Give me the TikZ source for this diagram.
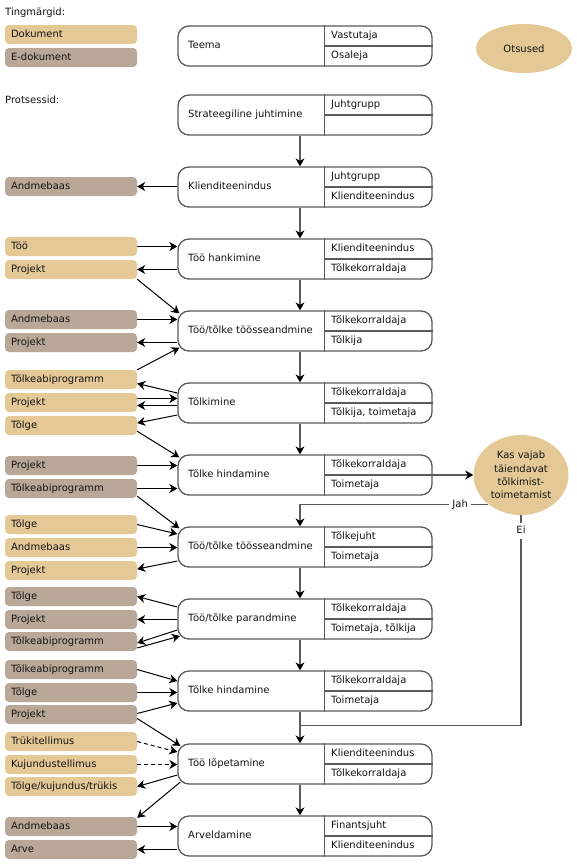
\documentclass[tikz,border=0pt]{standalone}
\usepackage{fontspec}
\setmainfont{DejaVu Sans}
\usetikzlibrary{arrows.meta,shapes.geometric,calc}
\definecolor{tan}{RGB}{228,201,150}
\definecolor{egray}{RGB}{185,168,152}
\definecolor{boxc}{RGB}{90,90,90}
\definecolor{txt}{RGB}{20,20,20}
\newcommand\mkproc[5]{%
  \node[pbox] (#1) at (305,#2) {};
  \node[ptext] (#1t) at (188,#2) {#3};
  \node[ptext] (#1r) at (331,{#2-10}) {#4};
  \node[ptext] (#1s) at (331,{#2+10}) {#5};
  \draw[pline] ([xshift=147pt]#1.north west) -- ([xshift=147pt]#1.south west);
  \draw[pline] ([xshift=147pt]#1.west) -- (#1.east);
}
\newcommand\harr[2]{\draw[arr] (#1.east) -- (#1.east -| #2.west);}
\newcommand\larr[2]{\draw[arr] (#2.east -| #1.west) -- (#2.east);}
\begin{document}
\begin{tikzpicture}[x=1pt,y=-1pt, font=\fontsize{10}{12}\selectfont, text=txt,
  pbox/.style={draw=boxc, line width=1.3pt, rounded corners=11pt, minimum width=254pt, minimum height=40pt, inner sep=0pt},
  pline/.style={draw=boxc, line width=1.3pt},
  ptext/.style={anchor=west, inner sep=0pt, text height=7.5pt, text depth=2pt},
  doc/.style={fill=tan, rounded corners=4pt, minimum height=19pt, text width=120pt, inner xsep=6pt, inner ysep=0pt, align=left, text height=7.5pt, text depth=2pt},
  edoc/.style={doc, fill=egray},
  arr/.style={-{Stealth[length=8pt,width=9pt,inset=2.5pt]}, line width=1pt, black},
  darr/.style={arr, dash pattern=on 4pt off 3pt},
  varr/.style={-{Stealth[length=8pt,width=9pt,inset=2.5pt,color=black]}, line width=1.3pt, draw=boxc},
  vline/.style={line width=1.3pt, draw=boxc},
  lbl/.style={fill=white, inner sep=3pt, text height=7.5pt, text depth=2pt},
]
\fill[white] (0,0) rectangle (577,865);
\useasboundingbox (0,0) rectangle (577,865);

% headings
\node[ptext] (h1) at (5,13) {Tingmärgid:};
\node[ptext] (h2) at (5,101) {Protsessid:};
\node[doc] (lg1) at (71,34.5) {Dokument};
\node[edoc] (lg2) at (71,57.5) {E-dokument};
\node[ellipse, fill=tan, minimum width=96pt, minimum height=49pt, inner sep=0pt] (ots) at (524,48.5) {Otsused};

% processes
\mkproc{b1}{46}{Teema}{Vastutaja}{Osaleja}
\mkproc{b2}{115}{Strateegiline juhtimine}{Juhtgrupp}{}
\mkproc{b3}{187}{Klienditeenindus}{Juhtgrupp}{Klienditeenindus}
\mkproc{b4}{259}{Töö hankimine}{Klienditeenindus}{Tõlkekorraldaja}
\mkproc{b5}{331}{Töö/tõlke töösseandmine}{Tõlkekorraldaja}{Tõlkija}
\mkproc{b6}{403}{Tõlkimine}{Tõlkekorraldaja}{Tõlkija, toimetaja}
\mkproc{b7}{475}{Tõlke hindamine}{Tõlkekorraldaja}{Toimetaja}
\mkproc{b8}{547}{Töö/tõlke töösseandmine}{Tõlkejuht}{Toimetaja}
\mkproc{b9}{619}{Töö/tõlke parandmine}{Tõlkekorraldaja}{Toimetaja, tõlkija}
\mkproc{b10}{691}{Tõlke hindamine}{Tõlkekorraldaja}{Toimetaja}
\mkproc{b11}{764}{Töö lõpetamine}{Klienditeenindus}{Tõlkekorraldaja}
\mkproc{b12}{836}{Arveldamine}{Finantsjuht}{Klienditeenindus}

% documents
\node[edoc] (d3a) at (71,186.5) {Andmebaas};
\node[doc] (d4a) at (71,246.5) {Töö};
\node[doc] (d4b) at (71,269.5) {Projekt};
\node[edoc] (d5a) at (71,319.5) {Andmebaas};
\node[edoc] (d5b) at (71,342.5) {Projekt};
\node[doc] (d6a) at (71,379.5) {Tõlkeabiprogramm};
\node[doc] (d6b) at (71,402.5) {Projekt};
\node[doc] (d6c) at (71,425.5) {Tõlge};
\node[edoc] (d7a) at (71,465.5) {Projekt};
\node[edoc] (d7b) at (71,488.5) {Tõlkeabiprogramm};
\node[doc] (d8a) at (71,524.5) {Tõlge};
\node[doc] (d8b) at (71,547.5) {Andmebaas};
\node[doc] (d8c) at (71,570.5) {Projekt};
\node[edoc] (d9a) at (71,596.5) {Tõlge};
\node[edoc] (d9b) at (71,619.5) {Projekt};
\node[edoc] (d9c) at (71,641.5) {Tõlkeabiprogramm};
\node[edoc] (d10a) at (71,669.5) {Tõlkeabiprogramm};
\node[edoc] (d10b) at (71,692.5) {Tõlge};
\node[edoc] (d10c) at (71,714.5) {Projekt};
\node[doc] (d11a) at (71,741.5) {Trükitellimus};
\node[doc] (d11b) at (71,764.5) {Kujundustellimus};
\node[doc] (d11c) at (71,786.5) {Tõlge/kujundus/trükis};
\node[edoc] (d12a) at (71,826.5) {Andmebaas};
\node[edoc] (d12b) at (71,849.5) {Arve};

% decision
\node[ellipse, fill=tan, minimum width=95pt, minimum height=80pt, inner sep=0pt, align=center, font=\fontsize{10}{13.3}\selectfont] (dec) at (521,475) {Kas vajab\\täiendavat\\tõlkimist-\\toimetamist};

% vertical flow
\foreach \a/\b in {b2/b3,b3/b4,b4/b5,b5/b6,b6/b7,b8/b9,b9/b10,b10/b11,b11/b12}
  \draw[varr] ([xshift=-5pt]\a.south) -- ([xshift=-5pt]\b.north);
\draw[varr] (b7.east) -- (dec.west);
\coordinate (jx) at ([xshift=-5pt]b8.north);
\draw[varr] (dec.222) -- node[lbl, pos=0.15] {Jah} (dec.222 -| jx) -- (jx);
\coordinate (ej) at ([xshift=-5pt,yshift=-14pt]b10.south);
\draw[vline] (dec.south) -- node[lbl, pos=0.076] {Ei} (dec.south |- ej) -- (ej);

% section 3
\larr{b3}{d3a}
% section 4
\harr{d4a}{b4}
\larr{b4}{d4b}
\draw[arr] (d4b.south east) -- ([xshift=2pt,yshift=-3pt]b5.north west);
% section 5
\harr{d5a}{b5}
\larr{b5}{d5b}
\draw[arr] (d6a.north east) -- ([xshift=2pt,yshift=4pt]b5.south west);
% section 6
\draw[arr] ([yshift=10pt]b6.west) -- ([yshift=-4pt]d6a.east);
\coordinate (p6a) at ([yshift=4pt]d6b.east);
\draw[arr] (p6a) -- (p6a -| b6.west);
\coordinate (p6b) at ([yshift=-3pt]d6b.east);
\draw[arr] (p6b -| b6.west) -- (p6b);
\draw[arr] ([yshift=-12pt]b6.west) -- ([yshift=2.5pt]d6c.east);
\draw[arr] ([yshift=4pt]d6c.south east) -- ([xshift=2pt,yshift=-3pt]b7.north west);
% section 7
\harr{d7a}{b7}
\harr{d7b}{b7}
\draw[arr] ([yshift=2pt]d7b.south east) -- ([xshift=2pt,yshift=-2pt]b8.north west);
% section 8
\draw[arr] (d8a.east) -- ([yshift=13pt]b8.west);
\harr{d8b}{b8}
\draw[arr] ([yshift=-14pt]b8.west) -- ([yshift=1.5pt]d8c.east);
% section 9
\draw[arr] ([yshift=12pt]b9.west) -- (d9a.east);
\larr{b9}{d9b}
\draw[arr] ([yshift=-11pt]b9.west) -- ([yshift=-1.5pt]d9c.east);
\draw[arr] ([yshift=-6.5pt]d9c.east) -- ([xshift=2.5pt,yshift=-17pt]b9.west);
% section 10
\draw[arr] (d10a.east) -- ([yshift=10pt]b10.west);
\harr{d10b}{b10}
\draw[arr] ([yshift=1pt]d10c.east) -- ([yshift=-12pt]b10.west);
\draw[arr] ([yshift=-4pt]d10c.east) -- ([xshift=3pt,yshift=-2.5pt]b11.north west);
% section 11
\draw[darr] (d11a.east) -- ([yshift=12pt]b11.west);
\draw[darr] (d11b.east) -- (d11b.east -| b11.west);
\draw[arr] ([yshift=-11pt]b11.west) -- (d11c.east);
\draw[arr] ([xshift=3pt,yshift=-18pt]b11.west) -- ([yshift=-1pt]d12a.north east);
% section 12
\harr{d12a}{b12}
\larr{b12}{d12b}
\end{tikzpicture}
\end{document}
